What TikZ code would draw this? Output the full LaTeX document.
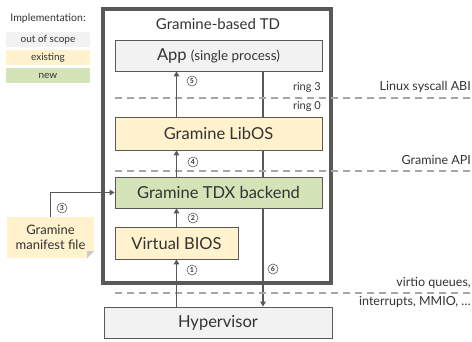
\documentclass[tikz,border=0pt]{standalone}
\usepackage{fontspec}
\setmainfont{Lato}
\usetikzlibrary{arrows.meta,calc,backgrounds}
\definecolor{edgegray}{HTML}{595959}
\definecolor{dashgray}{HTML}{A6A6A6}
\definecolor{textgray}{HTML}{333333}
\definecolor{scopegray}{HTML}{F2F2F2}
\definecolor{oldyellow}{HTML}{FFF2CC}
\definecolor{newgreen}{HTML}{D5E3B9}

\begin{document}
\begin{tikzpicture}[x=1pt, y=-1pt,
  layerbox/.style={draw=edgegray, line width=0.8pt, minimum width=207pt,
    minimum height=31pt, inner sep=0pt, text=textgray,
    font=\fontsize{16.5}{18}\selectfont},
  legendbox/.style={minimum width=84pt, minimum height=15pt, inner sep=0pt,
    text=textgray, font=\fontsize{10}{12}\selectfont},
  flow/.style={draw=edgegray, line width=1.8pt, -{Triangle[length=5pt,width=5.5pt]}},
  level/.style={draw=dashgray, line width=1.4pt, dash pattern=on 7pt off 5pt},
  stepno/.style={circle, draw=edgegray, line width=0.6pt, inner sep=0pt,
    minimum size=10pt, text=textgray, font=\fontsize{7}{7}\selectfont\bfseries},
  sidelabel/.style={text=textgray, inner sep=0pt, font=\fontsize{12.5}{14}\selectfont},
  ringlabel/.style={text=textgray, inner sep=0pt, anchor=east, font=\fontsize{11}{12}\selectfont}
]
\useasboundingbox (0,0) rectangle (472,341);

% ================= LEGEND =================
\node[text=textgray, font=\fontsize{10.5}{12}\selectfont] (impl) at (48,19) {Implementation:};
\node[legendbox, fill=scopegray] (outscope) at (48,39.5) {out of scope};
\node[legendbox, fill=oldyellow] (existing) at (48,57.5) {existing};
\node[legendbox, fill=newgreen]  (new)      at (48,75.5) {new};

% ================= TD FRAME =================
\node[draw=edgegray, line width=3.5pt, minimum width=228pt, minimum height=274pt,
      inner sep=0pt] (td) at (217,146) {};
\node[text=textgray, font=\fontsize{15}{17}\selectfont] (tdtitle) at (218,24) {Gramine-based TD};

% Interface levels
\draw[level] (115,98)  -- (472,98);
\draw[level] (115,171) -- (472,171);
\draw[level] (115,293) -- (472,293);

% ================= LAYERS =================
\node[layerbox, fill=scopegray] (app) at (218.5,55.5)
  {App {\fontsize{13.5}{15}\selectfont(single process)}};
\node[layerbox, fill=oldyellow, minimum height=33pt] (libos) at (218.5,133.5) {Gramine LibOS};
\node[layerbox, fill=newgreen] (tdx) at (218.5,192.5) {Gramine TDX backend};
\node[layerbox, fill=oldyellow, minimum width=123pt, minimum height=32pt] (bios)
  at (176.5,243) {Virtual BIOS};
\node[layerbox, fill=scopegray, minimum width=228pt] (hyp) at (218,322.5) {Hypervisor};

% Manifest note with folded corner
\node[fill=oldyellow, minimum width=87pt, minimum height=41pt, inner sep=0pt,
      align=center, text=textgray, font=\fontsize{13}{15.5}\selectfont] (manifest)
  at (50.5,237.5) {Gramine\\manifest file};
\fill[white] (manifest.south east) -- ++(-7,0) -- ++(7,-7) -- cycle;
\fill[black!20] (manifest.south east) ++(-7,0) -- ++(7,-7) -- ++(-7,0) -- cycle;

% ================= FLOW =================
\draw[flow] (bios.south |- hyp.north) -- (bios.south);
\draw[flow] (bios.north) -- (bios.north |- tdx.south);
\draw[flow] (bios.north |- tdx.north) -- (bios.north |- libos.south);
\draw[flow] (bios.north |- libos.north) -- (bios.north |- app.south);
\draw[flow] (manifest.north) |- (tdx.west);

\coordinate (exit) at (263,0);
\begin{scope}[on background layer]
\draw[flow] (exit |- app.south) -- (exit |- hyp.north);
\end{scope}

% Step numbers
\node[stepno] (s1) at (192,270) {1};
\node[stepno] (s2) at (193,218) {2};
\node[stepno] (s3) at (62,208)  {3};
\node[stepno] (s4) at (193,162) {4};
\node[stepno] (s5) at (192,81)  {5};
\node[stepno] (s6) at (273,269) {6};

% ================= LABELS =================
\node[ringlabel] (ring3) at (321,87)  {ring 3};
\node[ringlabel] (ring0) at (321,106) {ring 0};

\node[sidelabel, anchor=east] (abi)    at (471,87)  {Linux syscall ABI};
\node[sidelabel, anchor=east] (api)    at (471,160) {Gramine API};
\node[sidelabel, anchor=east] (virtio) at (471,283) {virtio queues,};
\node[sidelabel, anchor=east] (irq)    at (471,302) {interrupts, MMIO, \dots};

\end{tikzpicture}
\end{document}
